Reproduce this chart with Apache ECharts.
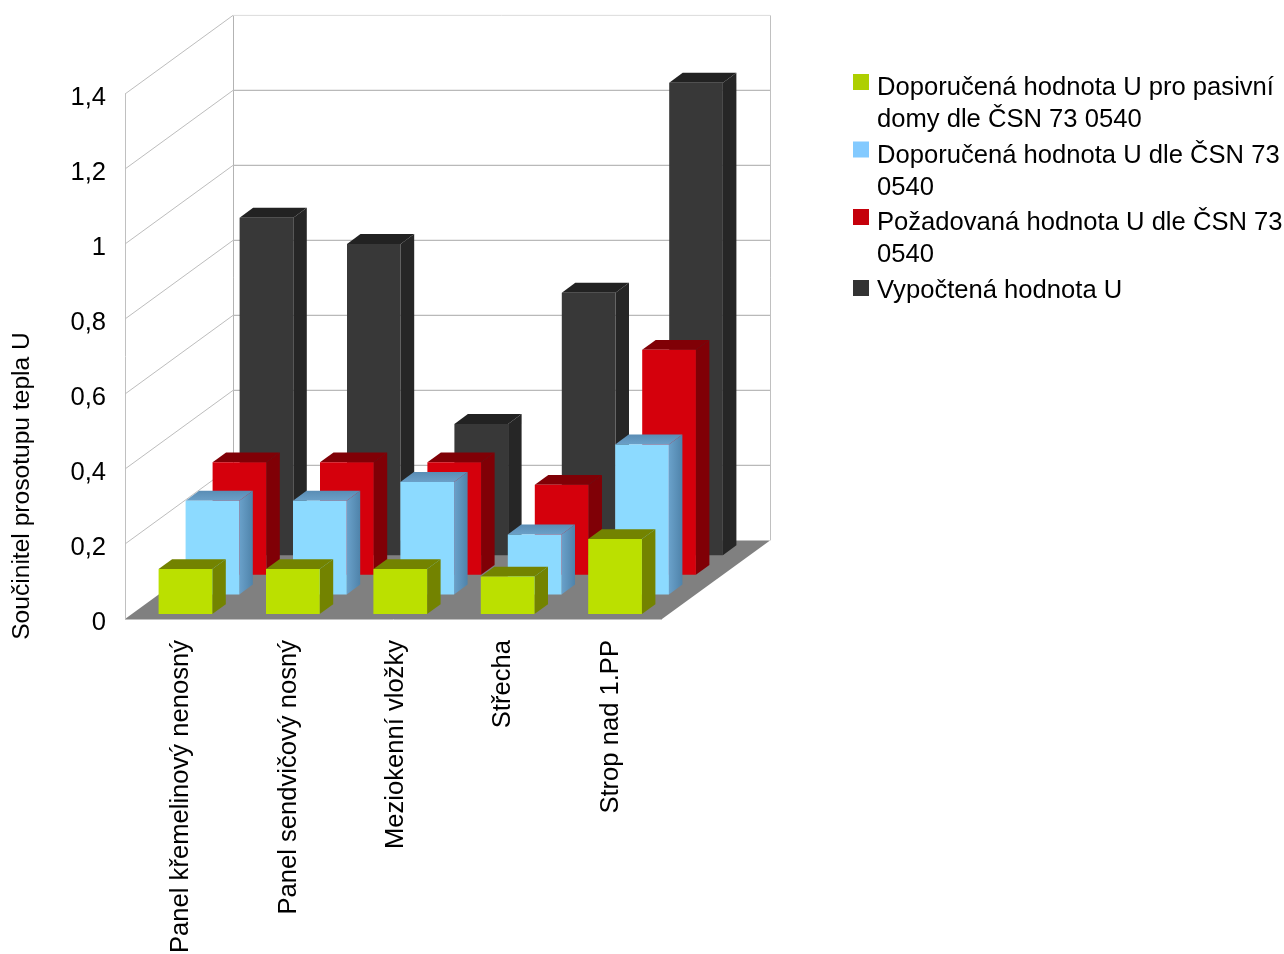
<!DOCTYPE html>
<html>
<head>
<meta charset="utf-8">
<title>Součinitel prostupu tepla</title>
<style>html,body{margin:0;padding:0;background:#fff}#chart{width:1284px;height:954px}</style>
<script src="https://cdn.jsdelivr.net/npm/echarts@6/dist/echarts.min.js"></script>
</head>
<body>
<div id="chart"></div>
<script>
// Chart content
const categories = ['Panel křemelinový nenosný', 'Panel sendvičový nosný', 'Meziokenní vložky', 'Střecha', 'Strop nad 1.PP'];
const yTicks = [0, 0.2, 0.4, 0.6, 0.8, 1, 1.2, 1.4];
const seriesNames = ['Doporučená hodnota U pro pasivní domy dle ČSN 73 0540', 'Doporučená hodnota U dle ČSN 73 0540', 'Požadovaná hodnota U dle ČSN 73 0540', 'Vypočtená hodnota U'];
const legendLines = ['Doporučená hodnota U pro pasivní\ndomy dle ČSN 73 0540', 'Doporučená hodnota U dle ČSN 73\n0540', 'Požadovaná hodnota U dle ČSN 73\n0540', 'Vypočtená hodnota U'];
const passive = [0.12, 0.12, 0.12, 0.1, 0.2];
const recommended = [0.25, 0.25, 0.3, 0.16, 0.4];
const required = [0.3, 0.3, 0.3, 0.24, 0.6];
const computed = [0.9, 0.83, 0.35, 0.7, 1.26];
const seriesValues = [passive, recommended, required, computed];

// Face colours per series: legend swatch, front, top, side
const swatch = ['#aecf00', '#83caff', '#c5000b', '#333333'];
const front = ['#bbe000', '#8cdaff', '#d5000c', '#383838'];
const gradient = (x2, y2, from, to) => new echarts.graphic.LinearGradient(0, 0, x2, y2, [{ offset: 0, color: from }, { offset: 1, color: to }]);
const top_ = ['#738300', gradient(0, 1, '#5a8db5', '#6ba0c8'), '#800006', '#222222'];
const side = ['#738300', gradient(1, 0, '#6aa1ca', '#4f83aa'), '#800006', '#262626'];

// Oblique projection of the depth axis, in pixels
const DEPTH_X = 108, DEPTH_Y = -78.6;
const SLOTS = seriesNames.length;

const chart = echarts.init(document.getElementById('chart'), null, { renderer: 'canvas' });

function barRenderer(slot) {
  return function (params, api) {
    const band = api.size([1, 0])[0];
    const base = api.coord([api.value(0), 0]);
    const head = api.coord([api.value(0), api.value(1)]);
    const unitX = DEPTH_X / SLOTS, unitY = DEPTH_Y / SLOTS;
    const x0 = base[0] - band / 4 + unitX * (slot + 0.25);
    const x1 = x0 + band / 2;
    const yBase = base[1] + unitY * (slot + 0.25);
    const yTop = head[1] + unitY * (slot + 0.25);
    const dx = unitX / 2, dy = unitY / 2;
    const poly = (points, fill) => ({ type: 'polygon', shape: { points }, style: { fill } });
    return {
      type: 'group',
      children: [
        poly([[x1, yBase], [x1 + dx, yBase + dy], [x1 + dx, yTop + dy], [x1, yTop]], side[slot]),
        poly([[x0, yTop], [x1, yTop], [x1 + dx, yTop + dy], [x0 + dx, yTop + dy]], top_[slot]),
        poly([[x0, yBase], [x1, yBase], [x1, yTop], [x0, yTop]], front[slot])
      ]
    };
  };
}

// Walls, floor and the gridlines running along them
function wallRenderer(params, api) {
  const cs = params.coordSys;
  const xL = cs.x, xR = cs.x + cs.width;
  const y = api.coord([0, api.value(0)])[1];
  const line = (x1, y1, x2, y2, stroke, w) => ({ type: 'line', shape: { x1, y1, x2, y2 }, style: { stroke, lineWidth: w } });
  const children = [];
  if (api.value(0) === 0) {
    const yTop = cs.y;
    children.push({ type: 'polygon', shape: { points: [[xL, y], [xR, y], [xR + DEPTH_X, y + DEPTH_Y], [xL + DEPTH_X, y + DEPTH_Y]] }, style: { fill: '#808080' } });
    children.push(line(xL + 0.5, yTop, xL + 0.5, y, '#c0c0c0', 1));
    children.push(line(xL + DEPTH_X + 0.5, yTop + DEPTH_Y, xL + DEPTH_X + 0.5, y + DEPTH_Y, '#b3b3b3', 1));
    children.push(line(xR + DEPTH_X + 0.5, yTop + DEPTH_Y, xR + DEPTH_X + 0.5, y + DEPTH_Y, '#c0c0c0', 1));
    children.push(line(xL, y + 0.5, xR, y + 0.5, '#c0c0c0', 1));
  } else {
    const top = api.value(0) === yTicks[yTicks.length - 1];
    children.push(line(xL, y, xL + DEPTH_X, y + DEPTH_Y, '#bdbdbd', 1));
    children.push(line(xL + DEPTH_X, y + DEPTH_Y, xR + DEPTH_X, y + DEPTH_Y, top ? '#dcdcdc' : '#b9b9b9', top ? 1 : 1.3));
  }
  return { type: 'group', children };
}

// Bars are painted from the back row to the front row
const barSeries = seriesNames.map((name, i) => ({
  name,
  type: 'custom',
  renderItem: barRenderer(i),
  clip: false,
  silent: true,
  itemStyle: { color: swatch[i] },
  encode: { x: 0, y: 1 },
  data: seriesValues[i].map((v, c) => [c, v])
})).reverse();

const ICON_TWO_LINES = 'path://M0,2h16v16h-16z M0,0h.01v.01z M19,64h.01v.01z';
const ICON_ONE_LINE = 'path://M0,5h16v16h-16z M0,0h.01v.01z M19,32h.01v.01z';
const legendText = { color: '#000', fontFamily: 'Liberation Sans', fontSize: 25.6, lineHeight: 32 };
const legendFormatter = name => legendLines[seriesNames.indexOf(name)];

chart.setOption({
  animation: false,
  backgroundColor: '#ffffff',
  grid: { left: 125, right: 622, top: 94, bottom: 335, outerBoundsMode: 'none' },
  xAxis: {
    type: 'category',
    data: categories,
    axisLine: { show: false },
    axisTick: { show: false },
    axisLabel: { interval: 0, rotate: 90, margin: 21, verticalAlign: 'top', lineHeight: 5, color: '#000', fontFamily: 'Liberation Sans', fontSize: 25.6 }
  },
  yAxis: {
    type: 'value',
    min: 0,
    max: 1.4,
    interval: 0.2,
    axisLine: { show: false },
    axisTick: { show: false },
    splitLine: { show: false },
    axisLabel: {
      margin: 19,
      verticalAlign: 'top',
      lineHeight: 7,
      color: '#000',
      fontFamily: 'Liberation Sans',
      fontSize: 25.6,
      formatter: v => String(+v.toFixed(1)).replace('.', ',')
    }
  },
  legend: [
    {
      data: seriesNames.slice(0, 3),
      orient: 'vertical', left: 848, top: 67, itemWidth: 19, itemHeight: 64, itemGap: 3.5,
      icon: ICON_TWO_LINES, selectedMode: false, textStyle: legendText, formatter: legendFormatter
    },
    {
      data: seriesNames.slice(3),
      orient: 'vertical', left: 848, top: 270, itemWidth: 19, itemHeight: 32,
      icon: ICON_ONE_LINE, selectedMode: false, textStyle: legendText, formatter: legendFormatter
    }
  ],
  graphic: [{
    type: 'text',
    x: 22, y: 486, rotation: Math.PI / 2,
    style: { text: 'Součinitel prosotupu tepla U', fill: '#000', font: '24.6px "Liberation Sans"', align: 'center', verticalAlign: 'middle' }
  }],
  series: [{
    name: 'Mřížka',
    type: 'custom',
    renderItem: wallRenderer,
    clip: false,
    silent: true,
    encode: { y: 0 },
    data: yTicks.map(t => [t])
  }].concat(barSeries)
});
</script>
</body>
</html>
